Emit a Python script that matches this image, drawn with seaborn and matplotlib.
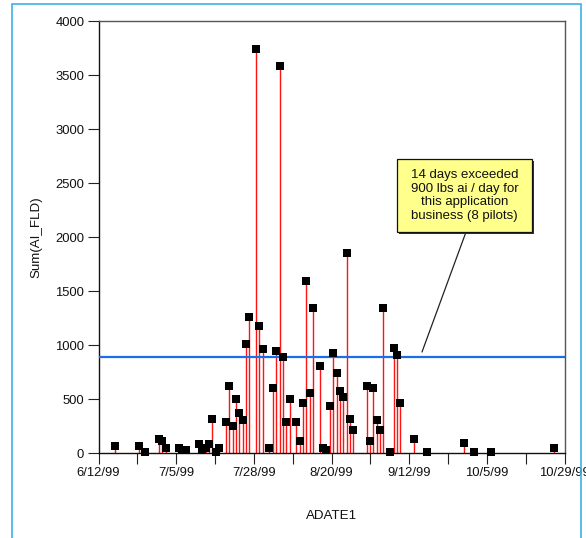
import matplotlib
matplotlib.use('Agg')
import matplotlib.pyplot as plt
import matplotlib.dates as mdates
from matplotlib.patches import Rectangle
import numpy as np
import pandas as pd
import seaborn as sns

# ---------------- data ----------------
dates = [
    "6/17/99", "6/24/99", "6/26/99", "6/30/99", "7/1/99", "7/2/99", "7/6/99", "7/7/99",
    "7/8/99", "7/12/99", "7/13/99", "7/14/99", "7/15/99", "7/16/99", "7/17/99", "7/18/99",
    "7/20/99", "7/21/99", "7/22/99", "7/23/99", "7/24/99", "7/25/99", "7/26/99", "7/27/99",
    "7/29/99", "7/30/99", "7/31/99", "8/2/99", "8/3/99", "8/4/99", "8/5/99", "8/6/99",
    "8/7/99", "8/8/99", "8/10/99", "8/11/99", "8/12/99", "8/13/99", "8/14/99", "8/15/99",
    "8/17/99", "8/18/99", "8/19/99", "8/20/99", "8/21/99", "8/22/99", "8/23/99", "8/24/99",
    "8/25/99", "8/26/99", "8/27/99", "8/31/99", "9/1/99", "9/2/99", "9/3/99", "9/4/99",
    "9/5/99", "9/7/99", "9/8/99", "9/9/99", "9/10/99", "9/14/99", "9/18/99", "9/29/99",
    "10/2/99", "10/7/99", "10/26/99",
]
values = [
    65, 65, 6, 127, 108, 46, 43, 25,
    25, 80, 25, 45, 85, 316, 8, 46,
    287, 623, 250, 500, 373, 308, 1012, 1262,
    3743, 1176, 966, 49, 602, 947, 3586, 892,
    290, 500, 287, 110, 462, 1588, 553, 1340,
    803, 44, 25, 433, 924, 738, 570, 515,
    1850, 311, 209, 620, 110, 605, 305, 212,
    1342, 8, 972, 910, 463, 132, 10, 95,
    6, 12, 49,
]
threshold = 890
x_start = "6/12/99"
x_end = "10/29/99"
x_tick_labels = ["6/12/99", "", "7/5/99", "", "7/28/99", "", "8/20/99", "",
                 "9/12/99", "", "10/5/99", "", "10/29/99"]
y_ticks = [0, 500, 1000, 1500, 2000, 2500, 3000, 3500, 4000]
x_label = "ADATE1"
y_label = "Sum(AI_FLD)"
note_text = "14 days exceeded\n900 lbs ai / day for\nthis application\nbusiness (8 pilots)"

# ---------------- style ----------------
sns.set_theme(style='white')
plt.rcParams['font.family'] = ['Liberation Sans', 'DejaVu Sans']

df = pd.DataFrame({x_label: pd.to_datetime(dates, format='%m/%d/%y'),
                   y_label: values})

W, H = 586, 538
fig = plt.figure(figsize=(W / 100, H / 100), dpi=100)
fig.patch.set_facecolor('white')

ax_l, ax_r, ax_t, ax_b = 98.5, 564.5, 21, 453
ax = fig.add_axes([ax_l / W, 1 - ax_b / H, (ax_r - ax_l) / W, (ax_b - ax_t) / H])
ax.set_facecolor('white')

# stems
ax.vlines(df[x_label], 0, df[y_label], color='#ff1414', lw=1.0, zorder=2)
# threshold line
ax.axhline(threshold, color='#1a6fe8', lw=1.6, zorder=3)
# markers
sns.scatterplot(data=df, x=x_label, y=y_label, marker='s', color='black', s=31,
                linewidth=0, ax=ax, zorder=4, clip_on=False, legend=False)

xmin = pd.to_datetime(x_start, format='%m/%d/%y')
xmax = pd.to_datetime(x_end, format='%m/%d/%y')
ax.set_xlim(xmin, xmax)
ax.set_ylim(0, 4000)

ticks = np.linspace(mdates.date2num(xmin), mdates.date2num(xmax), len(x_tick_labels))
ax.set_xticks(ticks)
ax.set_xticklabels(x_tick_labels)
ax.set_yticks(y_ticks)
ax.set_yticklabels([str(v) for v in y_ticks])

ax.tick_params(axis='both', bottom=True, left=True, direction='out', length=7.8,
               width=0.8, color='#222222', pad=2.5, labelsize=9.4, labelcolor='#111111')

for s in ['left', 'bottom']:
    ax.spines[s].set_color('#111111')
    ax.spines[s].set_linewidth(1.0)
for s in ['top', 'right']:
    ax.spines[s].set_color('#555555')
    ax.spines[s].set_linewidth(1.0)

ax.set_xlabel(x_label, fontsize=9.6, labelpad=22, color='#111111')
ax.set_ylabel(y_label, fontsize=9.6, labelpad=9, color='#111111')

# annotation box
aw, ah = ax_r - ax_l, ax_b - ax_t
bx0, bx1 = (397 - ax_l) / aw, (532 - ax_l) / aw
by0, by1 = (ax_b - 232) / ah, (ax_b - 159) / ah
sx, sy = 2 / aw, 2 / ah
ax.add_patch(Rectangle((bx0 + sx, by0 - sy), bx1 - bx0, by1 - by0, transform=ax.transAxes,
                       facecolor='#333333', edgecolor='none', zorder=6, clip_on=False))
ax.add_patch(Rectangle((bx0, by0), bx1 - bx0, by1 - by0, transform=ax.transAxes,
                       facecolor='#ffff8c', edgecolor='#111111', lw=0.9, zorder=7, clip_on=False))
ax.text((bx0 + bx1) / 2, (by0 + by1) / 2, note_text, transform=ax.transAxes,
        ha='center', va='center', multialignment='center', fontsize=9.5,
        linespacing=1.22, color='#111111', zorder=8)
ax.annotate('', xy=((422 - ax_l) / aw, (ax_b - 352) / ah), xycoords='axes fraction',
            xytext=((466 - ax_l) / aw, by0), textcoords='axes fraction',
            arrowprops=dict(arrowstyle='-', color='#222222', lw=0.9, shrinkA=0, shrinkB=0),
            zorder=5)

# light-blue frame around the figure
fig.patches.append(Rectangle((12 / W, -0.05), (581 - 12) / W, 1 - 4 / H + 0.05,
                             transform=fig.transFigure, fill=False,
                             edgecolor='#3ab4e8', lw=1.2))

fig.savefig('out.png', dpi=100)
